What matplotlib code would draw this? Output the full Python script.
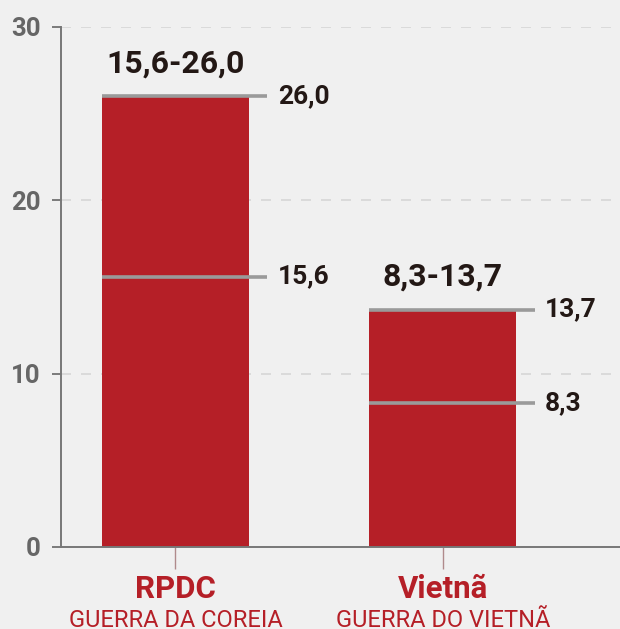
import matplotlib
matplotlib.use("Agg")
import matplotlib.pyplot as plt

categories = ["RPDC", "Vietnã"]
subtitles = ["GUERRA DA COREIA", "GUERRA DO VIETNÃ"]
low_values = [15.6, 8.3]
high_values = [26.0, 13.7]
low_labels = ["15,6", "8,3"]
high_labels = ["26,0", "13,7"]
range_labels = ["15,6-26,0", "8,3-13,7"]
yticks = [0, 10, 20, 30]

RED = "#b51f27"
BG = "#f0f0f0"
DARK = "#231815"
GRAY_LINE = "#9a9a9a"

plt.rcParams['font.family'] = ['Roboto', 'DejaVu Sans']

fig = plt.figure(figsize=(6.2, 6.29), dpi=100, facecolor=BG)
ax = fig.add_axes([61/620, 1 - 547/629, 1 - 61/620, (547 - 27)/629])
ax.set_facecolor(BG)

x = list(range(len(categories)))
bw = 0.55
ax.bar(x, high_values, width=bw, color=RED, zorder=2)

ax.set_xlim(-0.428, 1.662)
ax.set_ylim(0, 30)

for i in x:
    left = i - bw / 2
    right = i + bw / 2 + 0.068
    for v, lab in ((low_values[i], low_labels[i]), (high_values[i], high_labels[i])):
        ax.plot([left, right], [v, v], color=GRAY_LINE, lw=2.6, zorder=3, solid_capstyle='butt')
        ax.annotate(lab, xy=(right, v), xytext=(7.5, 0), textcoords='offset points',
                    ha='left', va='center', fontsize=19, fontweight='bold', color=DARK)
    ax.annotate(range_labels[i], xy=(i, high_values[i]), xytext=(0, 13), textcoords='offset points',
                ha='center', va='bottom', fontsize=23, fontweight='bold', color=DARK)
    ax.annotate(categories[i], xy=(i, 0), xytext=(0, -30), textcoords='offset points',
                ha='center', va='center', fontsize=22.5, fontweight='bold', color=RED,
                annotation_clip=False)
    ax.annotate(subtitles[i], xy=(i, 0), xytext=(0, -53), textcoords='offset points',
                ha='center', va='center', fontsize=17, color=RED, annotation_clip=False)

ax.set_yticks(yticks)
ax.set_yticklabels([str(t) for t in yticks])
ax.tick_params(axis='y', length=6.5, width=1.2, color='#666666', pad=8,
               labelsize=18.5, labelcolor='#666666')
for lab in ax.get_yticklabels():
    lab.set_fontweight('bold')

ax.set_xticks(x)
ax.set_xticklabels(["", ""])
ax.tick_params(axis='x', length=16, width=1, color='#b08a8c', direction='out')

ax.yaxis.grid(True, linestyle=(0, (6, 6)), color='#d6d6d6', lw=1.2, zorder=0)
ax.set_axisbelow(True)

for s in ('top', 'right'):
    ax.spines[s].set_visible(False)
ax.spines['left'].set_color('#777777')
ax.spines['left'].set_linewidth(1.4)
ax.spines['bottom'].set_color('#777777')
ax.spines['bottom'].set_linewidth(1.4)

fig.savefig("out.png", dpi=100, facecolor=BG)
